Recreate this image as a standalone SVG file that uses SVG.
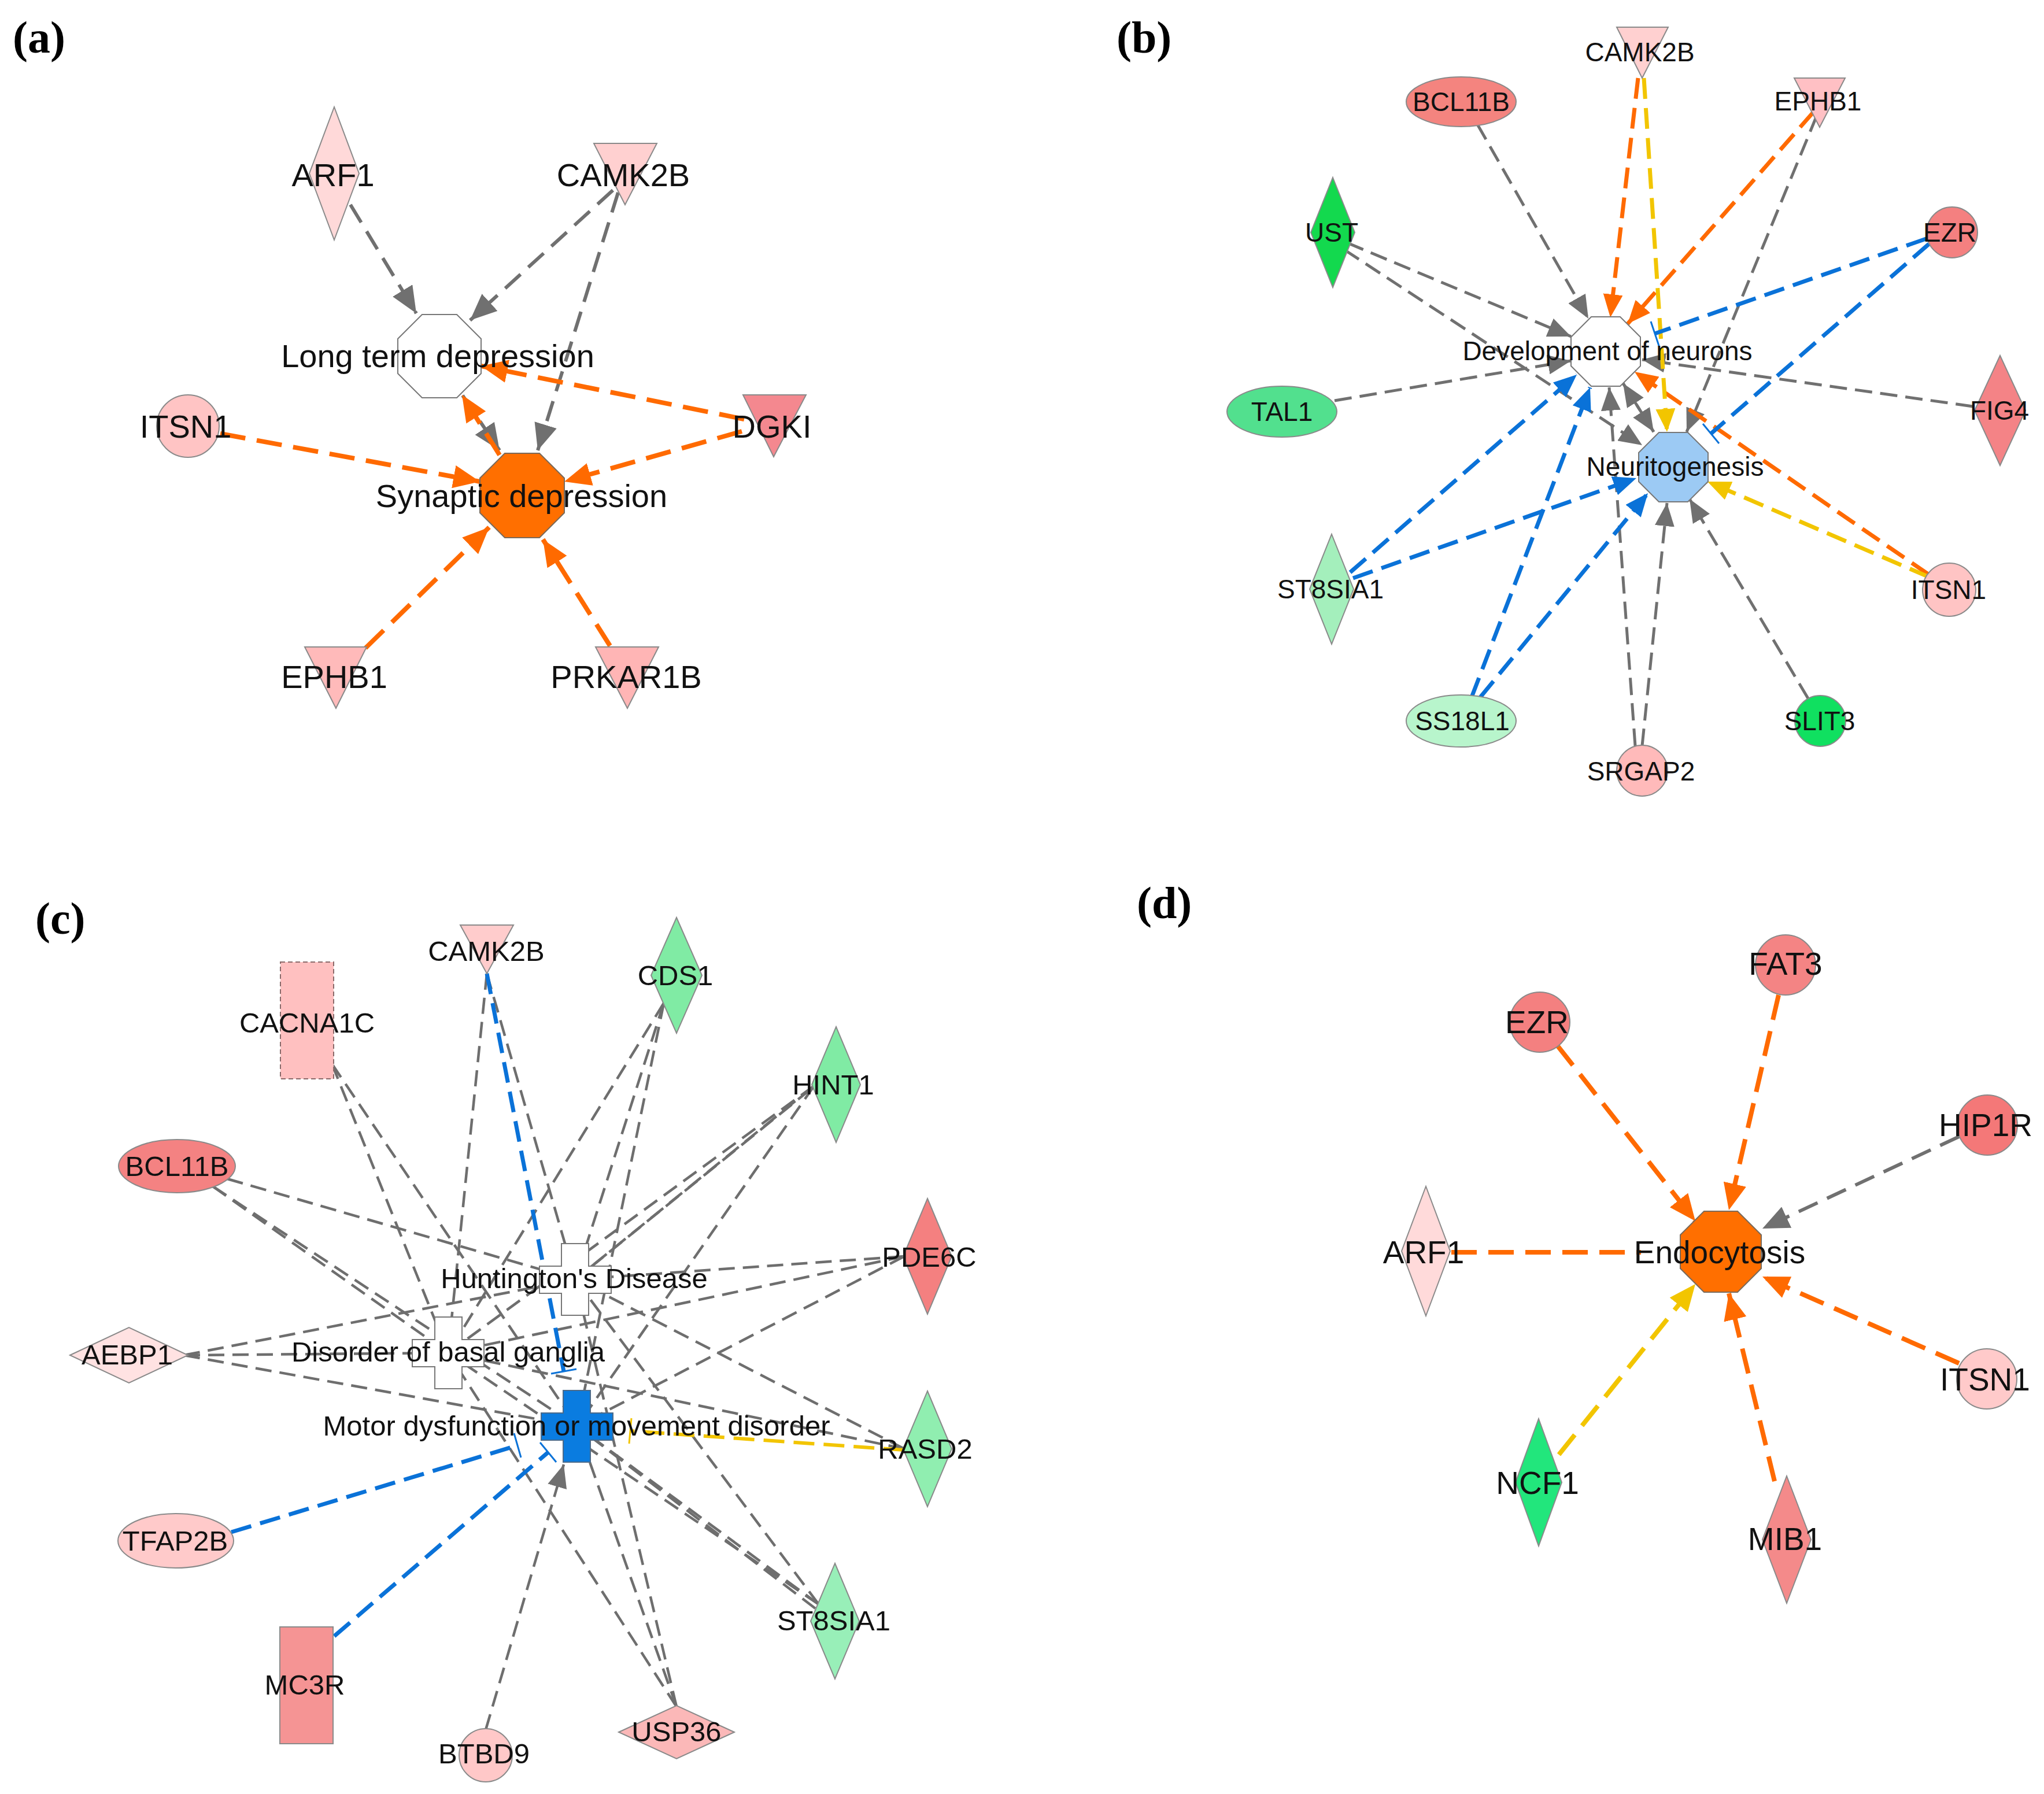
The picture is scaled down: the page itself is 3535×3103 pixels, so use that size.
<svg xmlns="http://www.w3.org/2000/svg" width="3535" height="3103" viewBox="0 0 3535 3103">
<style>
.e{fill:none;stroke-linecap:butt}
.ga{stroke:#707070;stroke-width:6;stroke-dasharray:36 18}
.oa{stroke:#ff6a00;stroke-width:8;stroke-dasharray:44 20}
.ya{stroke:#f2c500;stroke-width:8;stroke-dasharray:44 20}
.gb{stroke:#707070;stroke-width:5;stroke-dasharray:30 14}
.ob{stroke:#ff6a00;stroke-width:7;stroke-dasharray:36 16}
.yb{stroke:#f2c500;stroke-width:7;stroke-dasharray:36 16}
.bb{stroke:#0a72d8;stroke-width:7;stroke-dasharray:36 16}
.gc{stroke:#6e6e6e;stroke-width:4.5;stroke-dasharray:28 14}
.bc{stroke:#0a72d8;stroke-width:7;stroke-dasharray:36 16}
.yc{stroke:#f2c500;stroke-width:6;stroke-dasharray:36 16}
.barb{stroke:#0a72d8;stroke-width:3;fill:none}
.bary{stroke:#f2c500;stroke-width:3;fill:none}
.n{stroke:#8a8a8a;stroke-width:2}
.t{font-family:"Liberation Sans",Arial,sans-serif;fill:#111;text-anchor:middle}
.fa{font-size:56px}
.fb{font-size:46px}
.fc{font-size:49px}
.fd{font-size:55px}
.pl{font-family:"Liberation Serif","Times New Roman",serif;font-weight:bold;font-size:78px;fill:#000}
</style>
<defs>
<marker id="mGa" markerUnits="userSpaceOnUse" markerWidth="46" markerHeight="40" refX="46" refY="20" orient="auto"><path d="M0,0 L46,20 L0,40 z" fill="#707070"/></marker>
<marker id="mOa" markerUnits="userSpaceOnUse" markerWidth="46" markerHeight="40" refX="46" refY="20" orient="auto"><path d="M0,0 L46,20 L0,40 z" fill="#ff6a00"/></marker>
<marker id="mYa" markerUnits="userSpaceOnUse" markerWidth="46" markerHeight="40" refX="46" refY="20" orient="auto"><path d="M0,0 L46,20 L0,40 z" fill="#f2c500"/></marker>
<marker id="mGb" markerUnits="userSpaceOnUse" markerWidth="40" markerHeight="34" refX="40" refY="17" orient="auto"><path d="M0,0 L40,17 L0,34 z" fill="#707070"/></marker>
<marker id="mOb" markerUnits="userSpaceOnUse" markerWidth="40" markerHeight="34" refX="40" refY="17" orient="auto"><path d="M0,0 L40,17 L0,34 z" fill="#ff6a00"/></marker>
<marker id="mYb" markerUnits="userSpaceOnUse" markerWidth="40" markerHeight="34" refX="40" refY="17" orient="auto"><path d="M0,0 L40,17 L0,34 z" fill="#f2c500"/></marker>
<marker id="mBb" markerUnits="userSpaceOnUse" markerWidth="40" markerHeight="34" refX="40" refY="17" orient="auto"><path d="M0,0 L40,17 L0,34 z" fill="#0a72d8"/></marker>
</defs>
<rect width="3535" height="3103" fill="#fff"/>

<g id="panel-labels">
<text class="pl" x="22" y="91">(a)</text>
<text class="pl" x="1931" y="91">(b)</text>
<text class="pl" x="61" y="1615">(c)</text>
<text class="pl" x="1966" y="1588">(d)</text>
</g>

<g id="connectors">
<!-- panel a -->
<path class="e ga" d="M606,354 L720,542" marker-end="url(#mGa)"/>
<path class="e ga" d="M1060,329 L813,554" marker-end="url(#mGa)"/>
<path class="e ga" d="M1069,333 L930,779" marker-end="url(#mGa)"/>
<path class="e ga" d="M800,684 L864,779" marker-end="url(#mGa)"/>
<path class="e oa" d="M1287,725 L832,633" marker-end="url(#mOa)"/>
<path class="e oa" d="M1283,746 L976,833" marker-end="url(#mOa)"/>
<path class="e oa" d="M381,750 L830,833" marker-end="url(#mOa)"/>
<path class="e oa" d="M864,787 L799,683" marker-end="url(#mOa)"/>
<path class="e oa" d="M632,1121 L846,912" marker-end="url(#mOa)"/>
<path class="e oa" d="M1055,1117 L939,933" marker-end="url(#mOa)"/>
<!-- panel b -->
<path class="e gb" d="M2555,215 L2747,551" marker-end="url(#mGb)"/>
<path class="e gb" d="M3142,200 L2917,747" marker-end="url(#mGb)"/>
<path class="e gb" d="M2330,420 L2717,582" marker-end="url(#mGb)"/>
<path class="e gb" d="M2325,432 L2840,770" marker-end="url(#mGb)"/>
<path class="e gb" d="M2308,693 L2717,624" marker-end="url(#mGb)"/>
<path class="e gb" d="M3412,703 L2840,622" marker-end="url(#mGb)"/>
<path class="e gb" d="M2828,1290 L2783,670" marker-end="url(#mGb)"/>
<path class="e gb" d="M2840,1290 L2883,870" marker-end="url(#mGb)"/>
<path class="e gb" d="M3127,1208 L2922,863" marker-end="url(#mGb)"/>
<path class="e gb" d="M2807,663 L2860,747" marker-end="url(#mGb)"/>
<path class="e gb" d="M2860,747 L2807,663" marker-end="url(#mGb)"/>
<path class="e ob" d="M2833,135 L2785,549" marker-end="url(#mOb)"/>
<path class="e ob" d="M3137,193 L2815,560" marker-end="url(#mOb)"/>
<path class="e ob" d="M3336,994 L2827,643" marker-end="url(#mOb)"/>
<path class="e yb" d="M2843,135 L2883,747" marker-end="url(#mYb)"/>
<path class="e yb" d="M3336,998 L2953,833" marker-end="url(#mYb)"/>
<path class="e bb" d="M2335,990 L2727,648" marker-end="url(#mBb)"/>
<path class="e bb" d="M2340,1000 L2830,827" marker-end="url(#mBb)"/>
<path class="e bb" d="M2545,1206 L2750,670" marker-end="url(#mBb)"/>
<path class="e bb" d="M2560,1206 L2850,853" marker-end="url(#mBb)"/>
<path class="e bb" d="M3331,413 L2862,577"/>
<line class="barb" x1="2855" y1="556" x2="2869" y2="598"/>
<path class="e bb" d="M3336,422 L2959,750"/>
<line class="barb" x1="2945" y1="733" x2="2973" y2="767"/>
<!-- panel c -->
<path class="e gc" d="M842,1684 L995,2213"/>
<path class="e gc" d="M842,1684 L775,2340"/>
<path class="e gc" d="M1148,1735 L995,2213"/>
<path class="e gc" d="M1148,1735 L775,2340"/>
<path class="e gc" d="M1148,1735 L998,2467"/>
<path class="e gc" d="M574,1840 L775,2340"/>
<path class="e gc" d="M574,1840 L998,2467"/>
<path class="e gc" d="M1408,1878 L995,2213"/>
<path class="e gc" d="M1408,1878 L775,2340"/>
<path class="e gc" d="M1408,1878 L998,2467"/>
<path class="e gc" d="M1402,1884 L995,2213"/>
<path class="e gc" d="M393,2039 L995,2213"/>
<path class="e gc" d="M368,2052 L775,2340"/>
<path class="e gc" d="M368,2052 L998,2467"/>
<path class="e gc" d="M1564,2173 L995,2213"/>
<path class="e gc" d="M1564,2173 L775,2340"/>
<path class="e gc" d="M1564,2173 L998,2467"/>
<path class="e gc" d="M318,2344 L995,2213"/>
<path class="e gc" d="M318,2344 L775,2340"/>
<path class="e gc" d="M318,2344 L998,2467"/>
<path class="e gc" d="M1564,2506 L995,2213"/>
<path class="e gc" d="M1564,2506 L775,2340"/>
<path class="e gc" d="M1416,2775 L995,2213"/>
<path class="e gc" d="M1416,2775 L775,2340"/>
<path class="e gc" d="M1416,2775 L998,2467"/>
<path class="e gc" d="M1410,2782 L998,2467"/>
<path class="e gc" d="M1170,2952 L995,2213"/>
<path class="e gc" d="M1170,2952 L775,2340"/>
<path class="e gc" d="M1170,2952 L998,2467"/>
<path class="e gc" d="M840,2992 L975,2533" marker-end="url(#mGb)"/>
<path class="e bc" d="M842,1684 L975,2372"/>
<line class="barb" x1="953" y1="2376" x2="997" y2="2368"/>
<path class="e bc" d="M400,2650 L895,2500"/>
<line class="barb" x1="889" y1="2479" x2="901" y2="2521"/>
<path class="e bc" d="M578,2830 L948,2512"/>
<line class="barb" x1="934" y1="2495" x2="962" y2="2529"/>
<path class="e yc" d="M1564,2508 L1090,2475"/>
<line class="bary" x1="1092" y1="2453" x2="1088" y2="2497"/>
<!-- panel d -->
<path class="e oa" d="M3076,1721 L2990,2093" marker-end="url(#mOa)"/>
<path class="e oa" d="M2693,1808 L2932,2112" marker-end="url(#mOa)"/>
<path class="e ga" d="M3388,1966 L3048,2125" marker-end="url(#mGa)"/>
<path class="e oa" d="M2510,2166 L2838,2166"/>
<path class="e oa" d="M3388,2358 L3048,2208" marker-end="url(#mOa)"/>
<path class="e ya" d="M2696,2516 L2932,2221" marker-end="url(#mYa)"/>
<path class="e oa" d="M3069,2562 L2990,2237" marker-end="url(#mOa)"/>
</g>

<!-- ===== panel a nodes ===== -->
<g id="a-ARF1"><polygon class="n" points="578,185 621,300 578,415 535,300" fill="#ffd9d9"/><text class="t fa" x="576" y="322">ARF1</text></g>
<g id="a-CAMK2B"><polygon class="n" points="1027,248 1136,248 1081,354" fill="#ffd0d0"/><text class="t fa" x="1078" y="322">CAMK2B</text></g>
<g id="a-LTD"><polygon points="730,544 790,544 832,586 832,646 790,688 730,688 688,646 688,586" fill="#fff" stroke="#777" stroke-width="2"/><text class="t fa" x="757" y="635">Long term depression</text></g>
<g id="a-ITSN1"><circle class="n" cx="325" cy="737" r="54" fill="#ffc4c4"/><text class="t fa" x="321" y="757">ITSN1</text></g>
<g id="a-DGKI"><polygon class="n" points="1285,683 1394,683 1338,790" fill="#f4888f"/><text class="t fa" x="1335" y="757">DGKI</text></g>
<g id="a-SD"><polygon points="873,784 933,784 976,827 976,887 933,930 873,930 830,887 830,827" fill="#ff6f00" stroke="#7a6a5a" stroke-width="2"/><text class="t fa" x="902" y="877">Synaptic depression</text></g>
<g id="a-EPHB1"><polygon class="n" points="527,1119 634,1119 581,1225" fill="#ffbaba"/><text class="t fa" x="578" y="1190">EPHB1</text></g>
<g id="a-PRKAR1B"><polygon class="n" points="1030,1119 1139,1119 1085,1225" fill="#ffb5b5"/><text class="t fa" x="1083" y="1190">PRKAR1B</text></g>

<!-- ===== panel b nodes ===== -->
<g id="b-CAMK2B"><polygon class="n" points="2796,47 2885,47 2840,135" fill="#ffd0d0"/><text class="t fb" x="2836" y="106">CAMK2B</text></g>
<g id="b-BCL11B"><ellipse class="n" cx="2527" cy="176" rx="95" ry="43" fill="#f4847f"/><text class="t fb" x="2527" y="192">BCL11B</text></g>
<g id="b-EPHB1"><polygon class="n" points="3103,135 3191,135 3147,220" fill="#ffc0c4"/><text class="t fb" x="3144" y="191">EPHB1</text></g>
<g id="b-UST"><polygon class="n" points="2305,307 2343,402 2305,497 2267,402" fill="#13d94e"/><text class="t fb" x="2303" y="418">UST</text></g>
<g id="b-EZR"><circle class="n" cx="3376" cy="402" r="44" fill="#f48080"/><text class="t fb" x="3372" y="418">EZR</text></g>
<g id="b-DevN"><polygon points="2752,548 2802,548 2837,583 2837,633 2802,668 2752,668 2717,633 2717,583" fill="#fff" stroke="#777" stroke-width="2"/><text class="t fb" x="2780" y="623">Development of neurons</text></g>
<g id="b-TAL1"><ellipse class="n" cx="2217" cy="712" rx="95" ry="44" fill="#52e08e"/><text class="t fb" x="2217" y="728">TAL1</text></g>
<g id="b-FIG4"><polygon class="n" points="3459,615 3503,710 3459,805 3415,710" fill="#f48386"/><text class="t fb" x="3458" y="726">FIG4</text></g>
<g id="b-Neuritogenesis"><polygon points="2869,748 2919,748 2954,783 2954,833 2919,868 2869,868 2834,833 2834,783" fill="#9ccaf4" stroke="#777" stroke-width="2"/><text class="t fb" x="2897" y="823">Neuritogenesis</text></g>
<g id="b-ST8SIA1"><polygon class="n" points="2303,924 2341,1019 2303,1114 2265,1019" fill="#a4efbc"/><text class="t fb" x="2301" y="1035">ST8SIA1</text></g>
<g id="b-ITSN1"><circle class="n" cx="3371" cy="1020" r="46" fill="#ffc4c4"/><text class="t fb" x="3370" y="1036">ITSN1</text></g>
<g id="b-SS18L1"><ellipse class="n" cx="2527" cy="1247" rx="95" ry="45" fill="#b8f5cc"/><text class="t fb" x="2529" y="1263">SS18L1</text></g>
<g id="b-SLIT3"><circle class="n" cx="3148" cy="1247" r="44" fill="#10e060"/><text class="t fb" x="3147" y="1263">SLIT3</text></g>
<g id="b-SRGAP2"><circle class="n" cx="2840" cy="1333" r="44" fill="#ffbaba"/><text class="t fb" x="2838" y="1350">SRGAP2</text></g>

<!-- ===== panel c nodes ===== -->
<g id="c-CAMK2B"><polygon class="n" points="796,1600 888,1600 842,1684" fill="#ffcccc"/><text class="t fc" x="841" y="1662">CAMK2B</text></g>
<g id="c-CDS1"><polygon class="n" points="1170,1587 1214,1687 1170,1787 1126,1687" fill="#80eba4"/><text class="t fc" x="1168" y="1704">CDS1</text></g>
<g id="c-CACNA1C"><rect x="485" y="1664" width="92" height="202" fill="#ffc0c0" stroke="#8a6a6a" stroke-width="2" stroke-dasharray="8 5"/><text class="t fc" x="531" y="1786">CACNA1C</text></g>
<g id="c-HINT1"><polygon class="n" points="1446,1776 1488,1876 1446,1976 1404,1876" fill="#80eba4"/><text class="t fc" x="1441" y="1893">HINT1</text></g>
<g id="c-BCL11B"><ellipse class="n" cx="306" cy="2017" rx="101" ry="46" fill="#f48282"/><text class="t fc" x="306" y="2034">BCL11B</text></g>
<g id="c-PDE6C"><polygon class="n" points="1604,2073 1646,2173 1604,2273 1562,2173" fill="#f48080"/><text class="t fc" x="1607" y="2191">PDE6C</text></g>
<g id="c-HD"><path d="M971,2151 H1018 V2190 H1057 V2237 H1018 V2275 H971 V2237 H933 V2190 H971 Z" fill="#fff" stroke="#777" stroke-width="2"/><text class="t fc" x="993" y="2228">Huntington's Disease</text></g>
<g id="c-AEBP1"><polygon class="n" points="121,2344 223,2296 325,2344 223,2392" fill="#ffe2e2"/><text class="t fc" x="220" y="2360">AEBP1</text></g>
<g id="c-DBG"><path d="M752,2278 H799 V2317 H837 V2364 H799 V2402 H752 V2364 H713 V2317 H752 Z" fill="#fff" stroke="#777" stroke-width="2"/><text class="t fc" x="775" y="2355">Disorder of basal ganglia</text></g>
<g id="c-MD"><path d="M974,2405 H1021 V2444 H1060 V2491 H1021 V2529 H974 V2491 H936 V2444 H974 Z" fill="#0a7ce0" stroke="#4a6a8a" stroke-width="2"/><text class="t fc" x="997" y="2483">Motor dysfunction or movement disorder</text></g>
<g id="c-RASD2"><polygon class="n" points="1604,2406 1646,2506 1604,2606 1562,2506" fill="#90eeb0"/><text class="t fc" x="1600" y="2523">RASD2</text></g>
<g id="c-TFAP2B"><ellipse class="n" cx="304" cy="2665" rx="100" ry="47" fill="#ffcaca"/><text class="t fc" x="303" y="2682">TFAP2B</text></g>
<g id="c-ST8SIA1"><polygon class="n" points="1444,2704 1486,2804 1444,2904 1402,2804" fill="#98efb8"/><text class="t fc" x="1442" y="2820">ST8SIA1</text></g>
<g id="c-MC3R"><rect class="n" x="484" y="2814" width="92" height="202" fill="#f59494"/><text class="t fc" x="527" y="2931">MC3R</text></g>
<g id="c-USP36"><polygon class="n" points="1070,2996 1170,2950 1270,2996 1170,3042" fill="#fbb8b8"/><text class="t fc" x="1170" y="3012">USP36</text></g>
<g id="c-BTBD9"><circle class="n" cx="840" cy="3036" r="46" fill="#ffc8c8"/><text class="t fc" x="837" y="3050">BTBD9</text></g>

<!-- ===== panel d nodes ===== -->
<g id="d-FAT3"><circle class="n" cx="3088" cy="1669" r="52" fill="#f48484"/><text class="t fd" x="3088" y="1686">FAT3</text></g>
<g id="d-EZR"><circle class="n" cx="2663" cy="1768" r="52" fill="#f48080"/><text class="t fd" x="2658" y="1787">EZR</text></g>
<g id="d-HIP1R"><circle class="n" cx="3437" cy="1946" r="52" fill="#f47878"/><text class="t fd" x="3434" y="1965">HIP1R</text></g>
<g id="d-ARF1"><polygon class="n" points="2466,2052 2508,2164 2466,2276 2424,2164" fill="#ffdada"/><text class="t fd" x="2462" y="2185">ARF1</text></g>
<g id="d-Endocytosis"><polygon points="2947,2095 3005,2095 3046,2136 3046,2194 3005,2235 2947,2235 2906,2194 2906,2136" fill="#ff6f00" stroke="#7a6a5a" stroke-width="2"/><text class="t fd" x="2974" y="2185">Endocytosis</text></g>
<g id="d-ITSN1"><circle class="n" cx="3436" cy="2385" r="52" fill="#ffcaca"/><text class="t fd" x="3433" y="2405">ITSN1</text></g>
<g id="d-NCF1"><polygon class="n" points="2661,2454 2701,2564 2661,2674 2621,2564" fill="#22e67c"/><text class="t fd" x="2659" y="2584">NCF1</text></g>
<g id="d-MIB1"><polygon class="n" points="3090,2553 3132,2663 3090,2773 3048,2663" fill="#f48a8a"/><text class="t fd" x="3087" y="2681">MIB1</text></g>
</svg>
